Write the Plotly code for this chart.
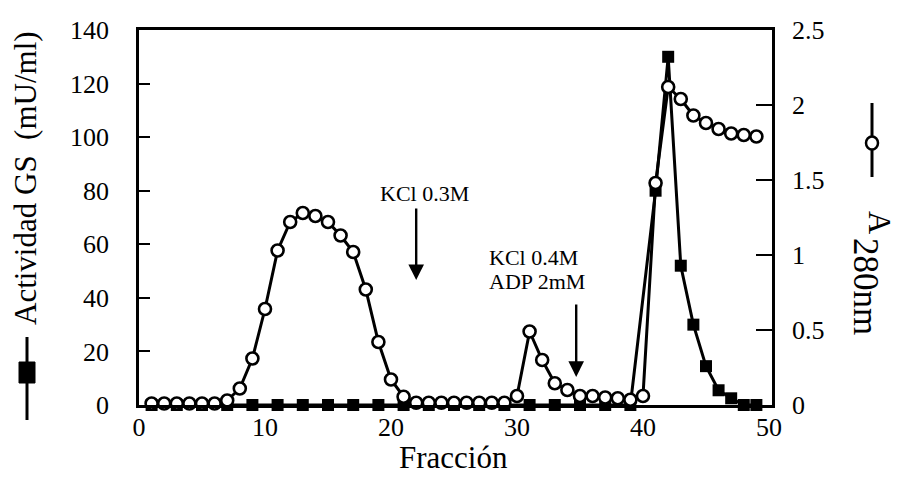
import plotly.graph_objects as go

# ---------------- data ----------------
gs_fraction = [1, 3, 5, 7, 9, 11, 13, 15, 17, 19, 21, 23, 25, 27, 29, 31, 33, 35, 37, 39,
               41, 42, 43, 44, 45, 46, 47, 48, 49]
gs_activity = [0, 0, 0, 0, 0, 0, 0, 0, 0, 0, 0, 0, 0, 0, 0, 0, 0, 0, 0, 0,
               80, 130, 52, 30, 14.5, 5.5, 2.5, 0, 0]

a280_fraction = [1, 2, 3, 4, 5, 6, 7, 8, 9, 10, 11, 12, 13, 14, 15, 16, 17, 18, 19, 20,
                 21, 22, 23, 24, 25, 26, 27, 28, 29, 30, 31, 32, 33, 34, 35, 36, 37, 38, 39, 40,
                 41, 42, 43, 44, 45, 46, 47, 48, 49]
a280 = [0.01, 0.01, 0.01, 0.01, 0.01, 0.01, 0.03, 0.11, 0.31, 0.64,
        1.03, 1.22, 1.28, 1.26, 1.22, 1.13, 1.02, 0.77, 0.42, 0.17,
        0.055, 0.015, 0.015, 0.015, 0.015, 0.015, 0.015, 0.015, 0.015, 0.06,
        0.49, 0.30, 0.145, 0.10, 0.06, 0.06, 0.05, 0.045, 0.035, 0.06,
        1.48, 2.12, 2.04, 1.93, 1.88, 1.84, 1.81, 1.80, 1.79]

x_ticks = [0, 10, 20, 30, 40, 50]
arrow_labels = ["KCl 0.3M", "KCl 0.4M", "ADP 2mM"]

# ---------------- layout geometry ----------------
W, H = 897, 487
L, R, T, B = 139, 772, 30, 405
FONT = "Liberation Serif, Times New Roman, serif"


def pxx(x):
    return (x - L) / (R - L)


def pyy(y):
    return (B - y) / (B - T)


fig = go.Figure()

fig.add_trace(go.Scatter(
    x=gs_fraction, y=gs_activity, mode="lines+markers", yaxis="y",
    line=dict(color="black", width=3),
    marker=dict(symbol="square", size=12, color="black"),
    cliponaxis=False, showlegend=False))

fig.add_trace(go.Scatter(
    x=a280_fraction, y=a280, mode="lines+markers", yaxis="y2",
    line=dict(color="black", width=3),
    marker=dict(symbol="circle", size=12, color="white",
                line=dict(color="black", width=2.6)),
    cliponaxis=False, showlegend=False))

annotations = []
# arrows
annotations.append(dict(x=22, y=0.833, xref="x", yref="y2", text="", showarrow=True,
                        ax=0, ay=-73, arrowhead=2, arrowsize=1.3, arrowwidth=2.4,
                        arrowcolor="black"))
annotations.append(dict(x=34.7, y=0.187, xref="x", yref="y2", text="", showarrow=True,
                        ax=0, ay=-74, arrowhead=2, arrowsize=1.3, arrowwidth=2.4,
                        arrowcolor="black"))
# arrow labels
annotations.append(dict(x=pxx(424), y=pyy(193), xref="paper", yref="paper",
                        text=arrow_labels[0], showarrow=False,
                        font=dict(family=FONT, size=22, color="black"),
                        xanchor="center", yanchor="middle"))
annotations.append(dict(x=pxx(487), y=pyy(257), xref="paper", yref="paper",
                        text=arrow_labels[1], showarrow=False,
                        font=dict(family=FONT, size=22, color="black"),
                        xanchor="left", yanchor="middle"))
annotations.append(dict(x=pxx(487), y=pyy(281), xref="paper", yref="paper",
                        text=arrow_labels[2], showarrow=False,
                        font=dict(family=FONT, size=22, color="black"),
                        xanchor="left", yanchor="middle"))
# axis titles
annotations.append(dict(x=pxx(25), y=pyy(178), xref="paper", yref="paper",
                        text="Actividad GS&nbsp;&nbsp;(mU/ml)", textangle=-90,
                        showarrow=False, font=dict(family=FONT, size=31, color="black"),
                        xanchor="center", yanchor="middle"))
annotations.append(dict(x=pxx(453), y=pyy(457), xref="paper", yref="paper",
                        text="Fracción", showarrow=False,
                        font=dict(family=FONT, size=31, color="black"),
                        xanchor="center", yanchor="middle"))
annotations.append(dict(x=pxx(880), y=pyy(222), xref="paper", yref="paper",
                        text="A", textangle=90, showarrow=False,
                        font=dict(family=FONT, size=32, color="black"),
                        xanchor="center", yanchor="middle"))
annotations.append(dict(x=pxx(866), y=pyy(287), xref="paper", yref="paper",
                        text="280nm", textangle=90, showarrow=False,
                        font=dict(family=FONT, size=35, color="black"),
                        xanchor="center", yanchor="middle"))

shapes = [
    # left legend glyph (filled square on a vertical line)
    dict(type="line", xref="paper", yref="paper", x0=pxx(27), x1=pxx(27),
         y0=pyy(337), y1=pyy(420), line=dict(color="black", width=3)),
    dict(type="rect", xref="paper", yref="paper", x0=pxx(19), x1=pxx(35),
         y0=pyy(362), y1=pyy(383), fillcolor="black", line=dict(color="black", width=1)),
    # right legend glyph (open circle on a vertical line)
    dict(type="line", xref="paper", yref="paper", x0=pxx(872), x1=pxx(872),
         y0=pyy(103), y1=pyy(177), line=dict(color="black", width=3)),
    dict(type="circle", xref="paper", yref="paper", x0=pxx(866), x1=pxx(878),
         y0=pyy(136.5), y1=pyy(149.5), fillcolor="white", line=dict(color="black", width=2.5)),
]

fig.update_layout(
    width=W, height=H, autosize=False,
    margin=dict(l=L, r=W - R, t=T, b=H - B, pad=0),
    paper_bgcolor="white", plot_bgcolor="white",
    font=dict(family=FONT, color="black"),
    xaxis=dict(range=[0, 50.24], tickvals=x_ticks, ticks="", showline=True,
               linecolor="black", linewidth=2.5, mirror=True, showgrid=False,
               zeroline=False, tickfont=dict(family=FONT, size=26, color="black"),
               ticklabelstandoff=-3),
    yaxis=dict(range=[0, 140], dtick=20, ticks="inside", ticklen=11, tickwidth=2,
               tickcolor="black", showline=True, linecolor="black", linewidth=2.5,
               showgrid=False, zeroline=False,
               tickfont=dict(family=FONT, size=26, color="black"),
               ticklabelstandoff=22),
    yaxis2=dict(range=[0, 2.5], dtick=0.5, overlaying="y", side="right",
                ticks="inside", ticklen=16, tickwidth=2, tickcolor="black",
                showline=True, linecolor="black", linewidth=2.5, showgrid=False,
                zeroline=False, tickfont=dict(family=FONT, size=26, color="black"),
                ticklabelstandoff=12),
    annotations=annotations,
    shapes=shapes,
)

fig.write_html("out.html")
